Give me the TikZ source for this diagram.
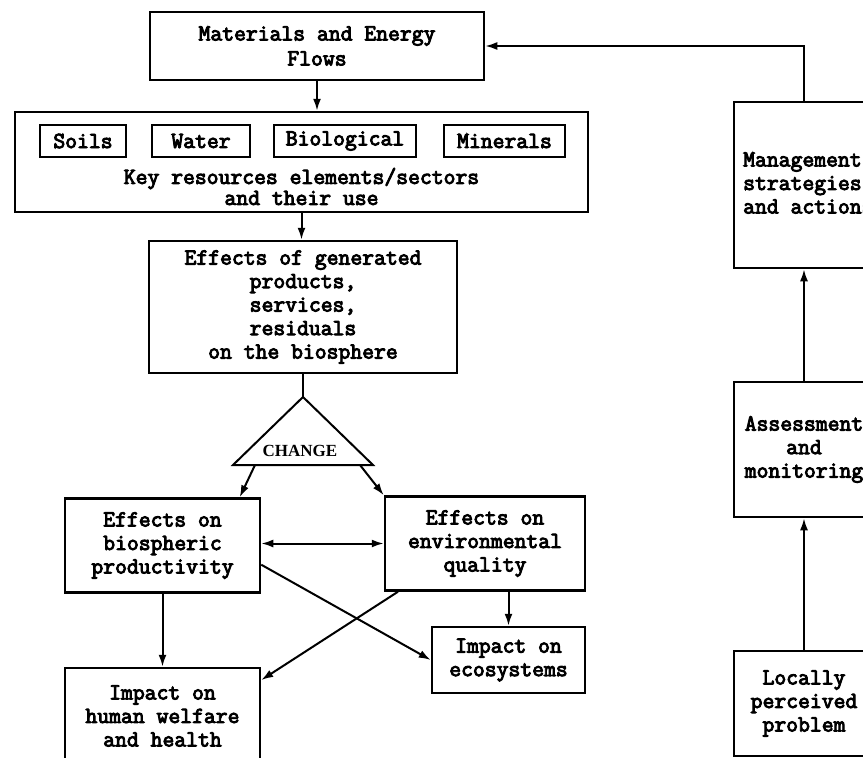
\documentclass[tikz,border=0pt]{standalone}
\usepackage{fontspec}
\setmonofont{Latin Modern Mono}[AutoFakeBold=4]
\newfontfamily\chgfont{Liberation Serif}
\usetikzlibrary{arrows.meta}
\tikzset{
	typo/.style={align=center,font=\ttfamily\bfseries\fontsize{23}{23.5}\selectfont,inner sep=0pt},
	boite/.style={typo,draw,line width=2.5pt},
	petit/.style={boite,minimum height=32},
	fleche/.style={-{Latex[length=12pt,width=8pt]},line width=2pt},
}
\begin{document}
\begin{tikzpicture}[x=1pt,y=-1pt]
	% Dimensions de la page
	\path[use as bounding box,fill=white] (0,0) rectangle (863,758);
	\def\colD{804} \def\lrgD{140}
	%
	% Colonne de gauche
	\node[boite,minimum width=334,minimum height=68] (flux) at (317,46) {Materials and Energy\\[1.5pt]Flows};
	\node[boite,minimum width=573,minimum height=100] (ressources) at (301.5,162) {};
	\foreach \nom/\x/\w/\txt in {soils/83/86/Soils,water/201/98/Water,biol/345/142/Biological,miner/504.5/121/Minerals}
		{\node[petit,minimum width=\w] (\nom) at (\x,141) {\txt};};
	\node[typo] (ressTxt) at (301.5,186.5) {Key resources elements/sectors\\[-2.5pt]and their use};
	\node[boite,minimum width=308,minimum height=132] (effets) at (303,307) {Effects of generated\\products,\\services,\\residuals\\on the biosphere};
	%
	% Triangle du changement
	\coordinate (sommet) at (303,397);
	\coordinate (baseG) at (233,465);
	\coordinate (baseD) at (373,465);
	\draw[line width=2pt] (sommet) -- (baseG) -- (baseD) -- cycle;
	\node[font=\chgfont\bfseries\fontsize{17}{17}\selectfont,inner sep=0pt] (change) at (300,451) {CHANGE};
	\coordinate (departG) at (255,465);
	\coordinate (departD) at (360,465);
	%
	\node[boite,minimum width=195,minimum height=94] (bioprod) at (162.5,545.5) {Effects on\\biospheric\\productivity};
	\node[boite,minimum width=200,minimum height=94] (envqual) at (485,543.5) {Effects on\\environmental\\quality};
	\node[boite,minimum width=153,minimum height=66] (ecosys) at (508.5,660) {Impact on\\ecosystems};
	\node[boite,minimum width=195,minimum height=96] (humain) at (162.5,716) {Impact on\\human welfare\\and health};
	%
	% Colonne de droite
	\node[boite,minimum width=\lrgD,minimum height=166] (gestion) at (\colD,185) {};
	\node[typo,align=left,anchor=west] (gestionTxt) at (743,183) {Management\\strategies\\and actions};
	\node[boite,minimum width=\lrgD,minimum height=135] (suivi) at (\colD,449.5) {Assessment\\and\\monitoring};
	\node[boite,minimum width=\lrgD,minimum height=105] (local) at (\colD,703.5) {Locally\\perceived\\problem};
	%
	% Liaisons
	\draw[fleche] (flux.south) -- (flux.south |- ressources.north);
	\draw[fleche] (ressources.south) -- (ressources.south |- effets.north);
	\draw[line width=2pt] (effets.south) -- (sommet);
	\draw[fleche] (departG) -- (bioprod.32);
	\draw[fleche] (departD) -- (envqual.north west);
	\draw[fleche,{Latex[length=12pt,width=8pt]}-{Latex[length=12pt,width=8pt]}] (envqual.west -| bioprod.east) -- (envqual.west);
	\draw[fleche] (bioprod.south) -- (humain.north);
	\draw[fleche] (ecosys.north |- envqual.south) -- (ecosys.north);
	\draw[fleche] (bioprod.-11) -- (ecosys.west);
	\draw[fleche] (envqual.209) -- (humain.20);
	\draw[fleche] (local.north) -- (suivi.south);
	\draw[fleche] (suivi.north) -- (gestion.south);
	\draw[fleche] (gestion.north) |- (flux.east);
\end{tikzpicture}
\end{document}
